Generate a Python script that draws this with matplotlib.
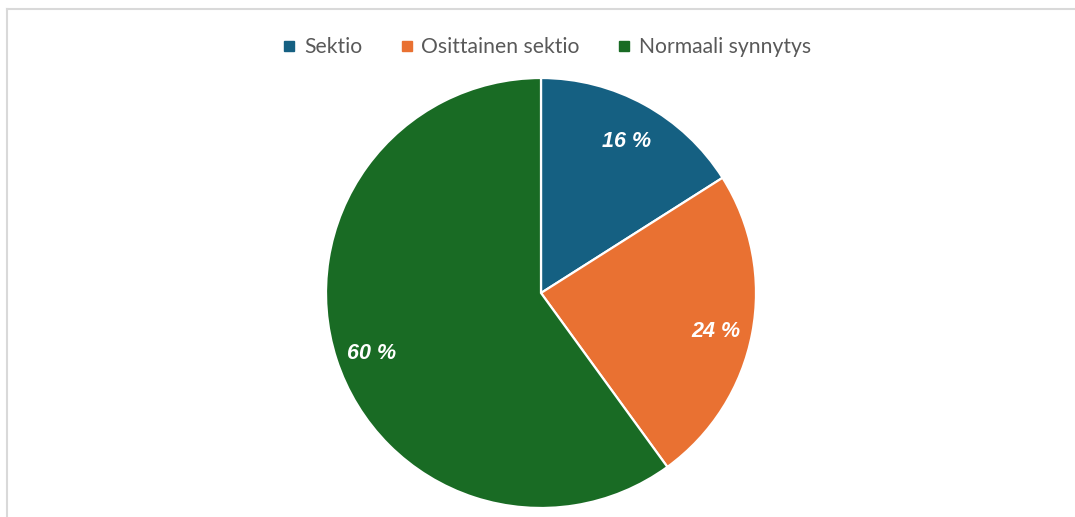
import matplotlib
matplotlib.use("Agg")
import matplotlib.pyplot as plt
from matplotlib.lines import Line2D

# データ
labels = ["Sektio", "Osittainen sektio", "Normaali synnytys"]
values = [16, 24, 60]
colors = ["#156082", "#E97132", "#196B24"]

W, H = 1075, 517
fig = plt.figure(figsize=(W / 100, H / 100), dpi=100)

# パイの位置（中心と半径をピクセルで）
cx, cy, r = 541, 293, 215
ax = fig.add_axes([(cx - r) / W, (H - cy - r) / H, 2 * r / W, 2 * r / H])

wedges, texts, autotexts = ax.pie(
    values, colors=colors, startangle=90, counterclock=False,
    autopct=lambda p: f"{p:.0f} %", pctdistance=0.83,
    wedgeprops=dict(edgecolor="white", linewidth=1.6),
    textprops=dict(color="white", fontsize=15.5, fontweight="bold",
                   fontstyle="italic", family="Liberation Sans"),
)
# ラベルを少し下へ
for t in autotexts:
    x, y = t.get_position()
    t.set_position((x, y - 0.025))
ax.set_xlim(-1, 1)
ax.set_ylim(-1, 1)
ax.axis("off")

# 凡例
handles = [Line2D([], [], marker="s", linestyle="", markersize=7,
                  markerfacecolor=c, markeredgecolor=c) for c in colors]
fig.legend(handles, labels, loc="center", bbox_to_anchor=(547 / W, 1 - 47 / H),
           ncol=3, frameon=False, handlelength=0.6, handletextpad=0.4,
           columnspacing=1.8, prop=dict(family="Lato", size=15.2),
           labelcolor="#595959")

# 枠線
fig.add_artist(Line2D([7 / W, 7 / W], [0, 1 - 9 / H], transform=fig.transFigure,
                      color="#d9d9d9", linewidth=1.5))
fig.add_artist(Line2D([7 / W, 1], [1 - 9 / H, 1 - 9 / H], transform=fig.transFigure,
                      color="#d9d9d9", linewidth=1.5))

fig.savefig("out.png", dpi=100)
